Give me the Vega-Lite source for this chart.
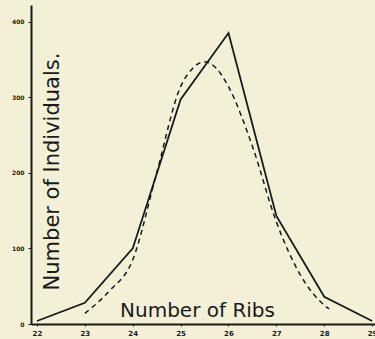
{
  "$schema": "https://vega.github.io/schema/vega-lite/v6.json",
  "width": 344,
  "height": 319,
  "autosize": {"type": "none"},
  "padding": {"left": 31, "top": 5, "right": 0, "bottom": 15},
  "background": "#f4f0d7",
  "config": {
    "view": {"stroke": null},
    "axis": {"grid": false, "domainColor": "#1a1a1a", "domainWidth": 2, "tickColor": "#1a1a1a", "labelColor": "#1a1a1a", "titleColor": "#1a1a1a", "labelFont": "DejaVu Sans", "titleFont": "DejaVu Sans"}
  },
  "datasets": {
    "observed": [
      {"ribs": 22, "count": 4},
      {"ribs": 23, "count": 28},
      {"ribs": 24, "count": 100},
      {"ribs": 25, "count": 297},
      {"ribs": 26, "count": 385},
      {"ribs": 27, "count": 143},
      {"ribs": 28, "count": 36},
      {"ribs": 29, "count": 4}
    ],
    "theoretical": [
      {"ribs": 23.0, "count": 14},
      {"ribs": 23.5, "count": 43},
      {"ribs": 24.0, "count": 85},
      {"ribs": 24.5, "count": 200},
      {"ribs": 25.0, "count": 314},
      {"ribs": 25.25, "count": 338},
      {"ribs": 25.5, "count": 347},
      {"ribs": 25.75, "count": 338},
      {"ribs": 26.0, "count": 314},
      {"ribs": 26.5, "count": 235},
      {"ribs": 27.0, "count": 135},
      {"ribs": 27.5, "count": 65},
      {"ribs": 28.0, "count": 25},
      {"ribs": 28.1, "count": 20}
    ]
  },
  "layer": [
    {
      "data": {"name": "theoretical"},
      "mark": {"type": "line", "interpolate": "monotone", "color": "#1a1a1a", "strokeWidth": 1.5, "strokeDash": [5, 4]},
      "encoding": {
        "x": {"field": "ribs", "type": "quantitative", "scale": {"domain": [21.875, 29.06], "nice": false, "zero": false},
          "axis": {"values": [22, 23, 24, 25, 26, 27, 28, 29], "tickSize": 2, "labelFontSize": 7, "labelFontWeight": "bold", "labelPadding": 3, "labelFlush": false,
            "title": "Number of Ribs", "titleFontSize": 20, "titleFontWeight": "normal", "titleX": 166, "titleY": -8, "titleBaseline": "alphabetic", "titleAnchor": null}},
        "y": {"field": "count", "type": "quantitative", "scale": {"domain": [0, 422], "nice": false},
          "axis": {"values": [0, 100, 200, 300, 400], "tickSize": 3, "labelFontSize": 6, "labelFontWeight": "bold", "labelPadding": 4, "labelFlush": false,
            "title": "Number of Individuals.", "titleFontSize": 21, "titleFontWeight": "normal", "titleAngle": -90, "titleX": 27, "titleY": 166, "titleBaseline": "alphabetic", "titleAlign": "center"}}
      }
    },
    {
      "data": {"name": "observed"},
      "mark": {"type": "line", "color": "#1a1a1a", "strokeWidth": 1.8},
      "encoding": {
        "x": {"field": "ribs", "type": "quantitative"},
        "y": {"field": "count", "type": "quantitative"}
      }
    }
  ]
}
